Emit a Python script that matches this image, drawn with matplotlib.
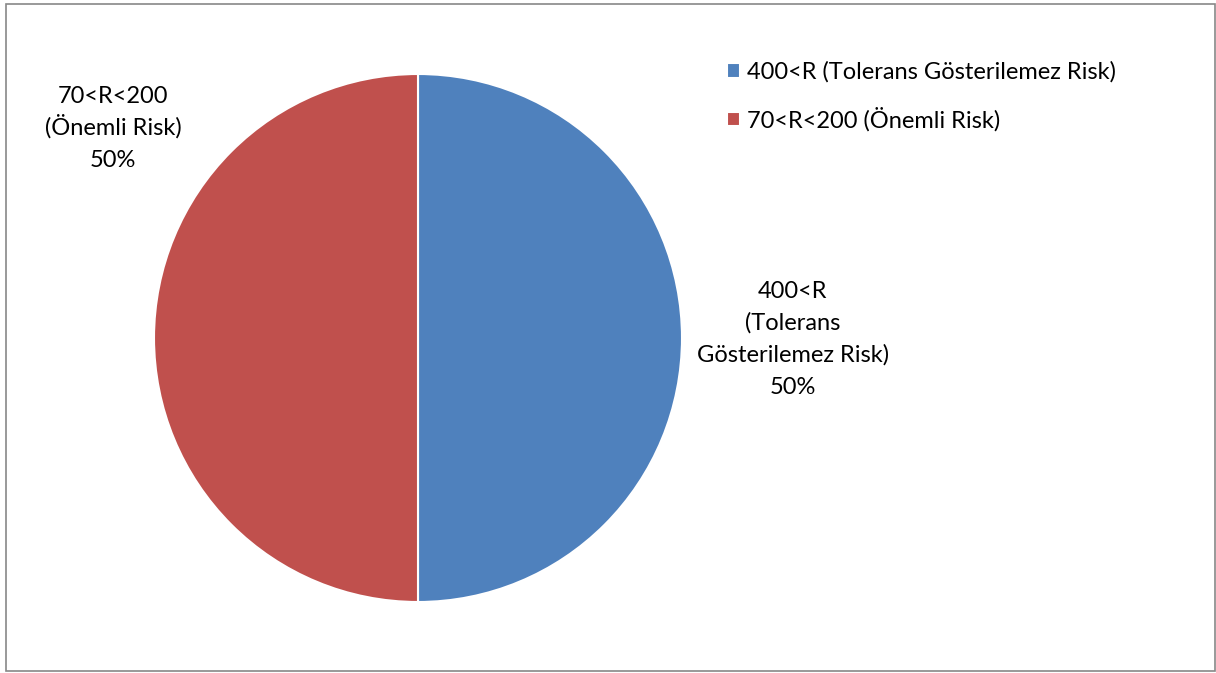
import matplotlib
matplotlib.use("Agg")
import matplotlib.pyplot as plt
from matplotlib.patches import Rectangle

categories = ["400<R (Tolerans Gösterilemez Risk)", "70<R<200 (Önemli Risk)"]
label_lines = [["400<R", "(Tolerans", "Gösterilemez Risk)"], ["70<R<200", "(Önemli Risk)"]]
values = [50, 50]
colors = ["#4F81BD", "#C0504D"]

plt.rcParams['font.family'] = ['Lato', 'DejaVu Sans']

W, H = 1216, 673
FS = 17
fig = plt.figure(figsize=(W / 100, H / 100), dpi=100)
fig.patch.set_facecolor("white")

# border
fig.add_artist(Rectangle((6 / W, 2 / H), (1215 - 6) / W, (669 - 2) / H,
                         transform=fig.transFigure, fill=False,
                         edgecolor="#888888", linewidth=1.2))

cx, cy, r = 418, 338, 264
ax = fig.add_axes([(cx - r) / W, (H - cy - r) / H, 2 * r / W, 2 * r / H])
wedges, _ = ax.pie(values, colors=colors, startangle=90, counterclock=False,
                   radius=1.0,
                   wedgeprops=dict(edgecolor="white", linewidth=1.5))
ax.set_xlim(-1, 1)
ax.set_ylim(-1, 1)
ax.set_aspect("equal")
ax.axis("off")

total = sum(values)
step = 32 / r
pos = [(375 / r, -8 / r), (-305 / r, 203 / r)]
for (x, y), lines, v in zip(pos, label_lines, values):
    allL = lines + [f"{v / total * 100:.0f}%"]
    n = len(allL)
    for i, t in enumerate(allL):
        yy = y + ((n - 1) / 2 - i) * step
        ax.text(x, yy, t, ha="center", va="baseline", fontsize=FS,
                color="black", clip_on=False,
                transform=ax.transData)

leg = fig.legend(wedges, categories, loc="upper left",
                 bbox_to_anchor=(706 / W, (H - 40) / H),
                 frameon=False, fontsize=FS, handlelength=0.55,
                 handleheight=0.55, handletextpad=0.3, labelspacing=1.03)

fig.savefig("out.png", dpi=100, facecolor="white")
